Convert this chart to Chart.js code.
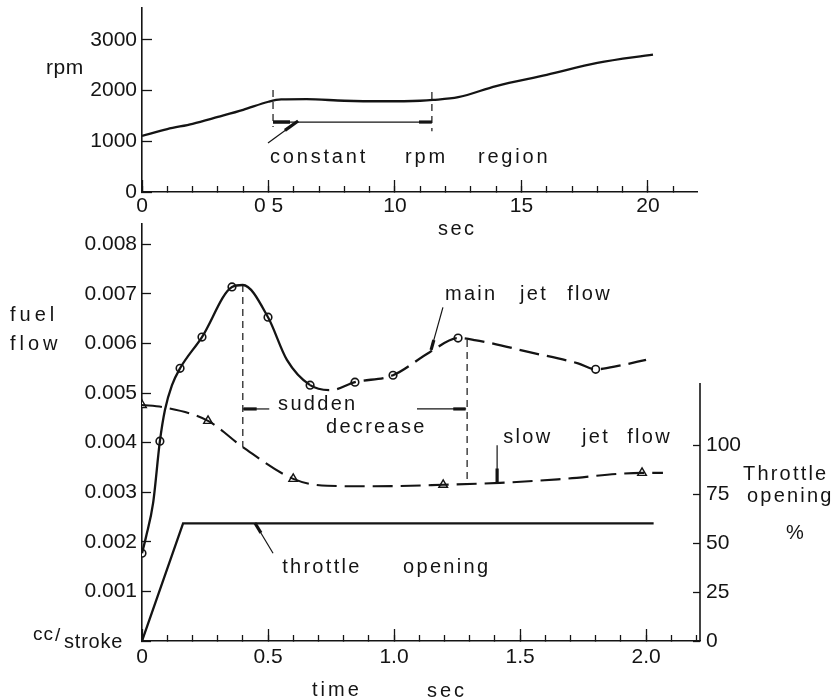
<!DOCTYPE html>
<html><head><meta charset="utf-8">
<script src="https://cdn.jsdelivr.net/npm/chart.js@4/dist/chart.umd.min.js"></script>
<style>
html,body{margin:0;padding:0;background:#fff;}
#wrap{position:relative;width:838px;height:700px;overflow:hidden;}
canvas{position:absolute;left:0;top:0;}
</style></head><body>
<div id="wrap"><canvas id="cTop" width="838" height="700"></canvas><canvas id="cBot" width="838" height="700"></canvas></div>
<script>
// ---------------- data ----------------
// upper panel: engine speed
const rpmTime   = [0, 1, 2, 3, 4, 5, 5.5, 6.5, 8, 9.5, 11, 11.5, 12.5, 14, 16, 18, 20.2];
const rpmValues = [1105, 1240, 1345, 1480, 1620, 1780, 1825, 1830, 1800, 1790, 1800, 1815, 1870, 2090, 2310, 2545, 2710];
const rpmTickValues  = [0, 1000, 2000, 3000];
const rpmTickLabels  = ['0', '1000', '2000', '3000'];
const topTimeLabels  = ['0', '0 5', '10', '15', '20'];

// lower panel: fuel flow (cc/stroke) vs time (sec)
const mainJetLineTime = [0, 0.016, 0.044, 0.071, 0.091, 0.119, 0.151, 0.238, 0.357, 0.40, 0.50, 0.575, 0.667, 0.75, 0.845, 0.996, 1.143, 1.254, 1.32, 1.55, 1.73, 1.80, 1.90, 2.0];
const mainJetLineFlow = [0.00177, 0.00210, 0.00278, 0.00403, 0.00466, 0.00516, 0.00550, 0.00613, 0.00714, 0.00718, 0.00653, 0.00567, 0.00516, 0.00506, 0.00522, 0.00536, 0.00583, 0.00611, 0.00607, 0.00581, 0.00560, 0.00548, 0.00556, 0.00567];
const mainJetPointTime = [0, 0.071, 0.151, 0.238, 0.357, 0.50, 0.667, 0.845, 0.996, 1.254, 1.80];
const mainJetPointFlow = [0.00177, 0.00403, 0.00550, 0.00613, 0.00714, 0.00653, 0.00516, 0.00522, 0.00536, 0.00611, 0.00548];

const slowJetLineTime = [0, 0.08, 0.262, 0.40, 0.60, 0.735, 0.92, 1.195, 1.42, 1.65, 1.984, 2.067];
const slowJetLineFlow = [0.00476, 0.00472, 0.00444, 0.00391, 0.00327, 0.00313, 0.00312, 0.00315, 0.00319, 0.00326, 0.00339, 0.00339];
const slowJetPointTime = [0, 0.262, 0.60, 1.195, 1.984];
const slowJetPointFlow = [0.00476, 0.00444, 0.00327, 0.00315, 0.00339];

const throttleTime    = [0, 0.163, 2.03];
const throttlePercent = [0, 60, 60];

const fuelTickLabels     = ['', '0.001', '0.002', '0.003', '0.004', '0.005', '0.006', '0.007', '0.008'];
const timeTickLabels     = ['0', '0.5', '1.0', '1.5', '2.0'];
const throttleTickLabels = ['0', '25', '50', '75', '100'];

// ---------------- helpers ----------------
const INK = '#141414';
const FONT = '"Liberation Sans", Arial, sans-serif';
Chart.defaults.font.family = FONT;
Chart.defaults.font.size = 21;
Chart.defaults.color = INK;

const xy = (xs, ys) => xs.map((x, i) => ({x: x, y: ys[i]}));
const seg = (x1, y1, x2, y2) => [{x: x1, y: y1}, {x: x2, y: y2}];
function lineDs(data, opt) {
  return Object.assign({data: data, borderColor: INK, borderWidth: 1.3, pointRadius: 0, fill: false, tension: 0}, opt || {});
}
function zeroPad(s) { s.paddingLeft = s.paddingRight = s.paddingTop = s.paddingBottom = 0; }

function drawText(ctx, txt, x, y, o) {
  o = o || {};
  ctx.save();
  ctx.font = (o.weight ? o.weight + ' ' : '') + (o.size || 20) + 'px ' + FONT;
  ctx.fillStyle = INK;
  try { ctx.letterSpacing = (o.ls === undefined ? 2.5 : o.ls) + 'px'; } catch (e) {}
  ctx.textAlign = o.align || 'left';
  ctx.textBaseline = o.base || 'middle';
  ctx.fillText(txt, x, y);
  ctx.restore();
}

// ---------------- upper chart ----------------
const TOP_XMAX = 21.94, TOP_YMAX = 3629;
const topNotes = [
  {text: 'constant', t: 5.06, v: 690},
  {text: 'rpm', t: 10.40, v: 690},
  {text: 'region', t: 13.28, v: 690}
];
const topTextPlugin = {
  id: 'topText',
  afterDraw(chart) {
    const ctx = chart.ctx, xs = chart.scales.x, ys = chart.scales.y;
    topNotes.forEach(n => drawText(ctx, n.text, xs.getPixelForValue(n.t), ys.getPixelForValue(n.v), {ls: 2.8}));
    drawText(ctx, 'rpm', 46, ys.getPixelForValue(2440), {size: 21, ls: 0.5});
    drawText(ctx, 'sec', 438, 229, {ls: 2.5});
  }
};

new Chart(document.getElementById('cTop'), {
  type: 'line',
  data: {datasets: [
    lineDs(xy(rpmTime, rpmValues), {borderWidth: 2.3, cubicInterpolationMode: 'monotone'}),
    lineDs(seg(5.18, 2010, 5.18, 1280), {borderDash: [7, 5], borderWidth: 1.2}),
    lineDs(seg(11.46, 1970, 11.46, 1200), {borderDash: [7, 5], borderWidth: 1.2}),
    lineDs(seg(5.18, 1380, 11.46, 1380), {borderWidth: 1.2}),
    lineDs(seg(5.18, 1380, 5.85, 1380), {borderWidth: 3.5}),
    lineDs(seg(10.95, 1380, 11.46, 1380), {borderWidth: 3.2}),
    lineDs(seg(4.98, 966, 6.17, 1400), {borderWidth: 1.2}),
    lineDs(seg(5.65, 1215, 6.17, 1400), {borderWidth: 3.2})
  ]},
  options: {
    responsive: false, animation: false, devicePixelRatio: 1,
    layout: {padding: {top: 8, left: 0, right: 141, bottom: 478}},
    plugins: {legend: {display: false}, tooltip: {enabled: false}},
    scales: {
      x: {type: 'linear', position: 'bottom', weight: 0, min: 0, max: TOP_XMAX, bounds: 'data',
          ticks: {display: false, stepSize: 1, includeBounds: false},
          grid: {drawOnChartArea: false, drawTicks: true, tickLength: -6, tickColor: INK, tickWidth: 1.3},
          border: {display: true, color: INK, width: 1.6},
          afterFit: s => { s.height = 0; zeroPad(s); }},
      xMajor: {type: 'linear', position: 'bottom', weight: 1, min: 0, max: TOP_XMAX, bounds: 'data',
          ticks: {stepSize: 5, includeBounds: false, padding: 14, maxRotation: 0, autoSkip: false,
                  callback: v => topTimeLabels[Math.round(v / 5)]},
          grid: {drawOnChartArea: false, drawTicks: true, tickLength: -12, tickColor: INK, tickWidth: 1.3},
          border: {display: false},
          afterBuildTicks: s => { s.ticks = s.ticks.filter(t => t.value <= 20.001); },
          afterFit: s => { s.height = 30; zeroPad(s); }},
      y: {type: 'linear', position: 'left', min: 0, max: TOP_YMAX, bounds: 'data',
          ticks: {includeBounds: false, padding: 15,
                  callback: v => rpmTickLabels[rpmTickValues.indexOf(v)]},
          grid: {drawOnChartArea: false, drawTicks: true, tickLength: -10, tickColor: INK, tickWidth: 1.3},
          border: {display: true, color: INK, width: 1.6},
          afterBuildTicks: s => { s.ticks = rpmTickValues.map(v => ({value: v})); },
          afterFit: s => { s.width = 142; zeroPad(s); }}
    }
  },
  plugins: [topTextPlugin]
});

// ---------------- lower chart ----------------
const BOT_XMAX = 2.214, BOT_YMAX = 0.00841, THR_MAX = 212.8, THR_AXIS_TOP = 131.6;
const botNotes = [
  {text: 'main', t: 1.202, v: 0.00698},
  {text: 'jet', t: 1.500, v: 0.00698},
  {text: 'flow', t: 1.687, v: 0.00698},
  {text: 'sudden', t: 0.540, v: 0.00476},
  {text: 'decrease', t: 0.730, v: 0.00431},
  {text: 'slow', t: 1.433, v: 0.00411},
  {text: 'jet', t: 1.746, v: 0.00411},
  {text: 'flow', t: 1.925, v: 0.00411},
  {text: 'throttle', t: 0.556, v: 0.00149},
  {text: 'opening', t: 1.036, v: 0.00149}
];
const botTextPlugin = {
  id: 'botText',
  afterDraw(chart) {
    const ctx = chart.ctx, xs = chart.scales.x, ys = chart.scales.y;
    botNotes.forEach(n => drawText(ctx, n.text, xs.getPixelForValue(n.t), ys.getPixelForValue(n.v), {ls: 2.3}));
    drawText(ctx, 'fuel', 10, 315, {ls: 4});
    drawText(ctx, 'flow', 10, 344, {ls: 4});
    drawText(ctx, 'cc', 33, 640, {size: 19, ls: 1, base: 'alphabetic'});
    drawText(ctx, '/', 55, 641, {size: 19, ls: 0, base: 'alphabetic'});
    drawText(ctx, 'stroke', 64, 648, {size: 20, ls: 0.8, base: 'alphabetic'});
    drawText(ctx, 'time', 312, 696, {ls: 3, base: 'alphabetic'});
    drawText(ctx, 'sec', 427, 697, {ls: 3, base: 'alphabetic'});
    drawText(ctx, 'Throttle', 743, 480, {ls: 2.2, base: 'alphabetic'});
    drawText(ctx, 'opening', 747, 502, {ls: 2.2, base: 'alphabetic'});
    drawText(ctx, '%', 795, 533, {ls: 0, align: 'center'});
  }
};

new Chart(document.getElementById('cBot'), {
  type: 'line',
  data: {datasets: [
    lineDs(xy(mainJetLineTime, mainJetLineFlow), {borderWidth: 2.3, cubicInterpolationMode: 'monotone',
      segment: {borderDash: c => (c.p0.parsed.x >= 0.66 ? [20, 8] : undefined)}}),
    lineDs(xy(slowJetLineTime, slowJetLineFlow), {borderWidth: 2.1, cubicInterpolationMode: 'monotone', borderDash: [20, 8]}),
    lineDs(xy(throttleTime, throttlePercent), {yAxisID: 'yR', borderWidth: 2.3}),
    lineDs(seg(BOT_XMAX, 0, BOT_XMAX, THR_AXIS_TOP), {yAxisID: 'yR', borderWidth: 1.6, clip: false}),
    lineDs(seg(0.40, 0.00718, 0.40, 0.00391), {borderDash: [7, 5], borderWidth: 1.2}),
    lineDs(seg(1.29, 0.00607, 1.29, 0.00316), {borderDash: [7, 5], borderWidth: 1.2}),
    lineDs(seg(0.505, 0.00468, 0.40, 0.00468), {borderWidth: 1.2}),
    lineDs(seg(0.455, 0.00468, 0.403, 0.00468), {borderWidth: 3.2}),
    lineDs(seg(1.091, 0.00468, 1.286, 0.00468), {borderWidth: 1.2}),
    lineDs(seg(1.235, 0.00468, 1.284, 0.00468), {borderWidth: 3.2}),
    lineDs(seg(1.409, 0.00395, 1.409, 0.00318), {borderWidth: 1.2}),
    lineDs(seg(1.409, 0.00348, 1.409, 0.00318), {borderWidth: 3.2}),
    lineDs(seg(1.194, 0.00673, 1.147, 0.00587), {borderWidth: 1.2}),
    lineDs(seg(1.158, 0.00607, 1.147, 0.00587), {borderWidth: 3.2}),
    lineDs(seg(0.52, 0.00177, 0.448, 0.00238), {borderWidth: 1.2}),
    lineDs(seg(0.472, 0.00218, 0.448, 0.00238), {borderWidth: 3.2}),
    {data: xy(mainJetPointTime, mainJetPointFlow), showLine: false, pointStyle: 'circle', pointRadius: 3.8,
     pointBorderWidth: 1.6, pointBorderColor: INK, pointBackgroundColor: '#fff'},
    {data: xy(slowJetPointTime, slowJetPointFlow), showLine: false, pointStyle: 'triangle', pointRadius: 5,
     pointBorderWidth: 1.4, pointBorderColor: INK, pointBackgroundColor: '#fff'}
  ]},
  options: {
    responsive: false, animation: false, devicePixelRatio: 1,
    layout: {padding: {top: 224, left: 0, right: 0, bottom: 29}},
    plugins: {legend: {display: false}, tooltip: {enabled: false}},
    scales: {
      x: {type: 'linear', position: 'bottom', weight: 0, min: 0, max: BOT_XMAX, bounds: 'data',
          ticks: {display: false, stepSize: 0.1, includeBounds: false},
          grid: {drawOnChartArea: false, drawTicks: true, tickLength: -6, tickColor: INK, tickWidth: 1.3},
          border: {display: true, color: INK, width: 1.6},
          afterFit: s => { s.height = 0; zeroPad(s); }},
      xMajor: {type: 'linear', position: 'bottom', weight: 1, min: 0, max: BOT_XMAX, bounds: 'data',
          ticks: {stepSize: 0.5, includeBounds: false, padding: 16, maxRotation: 0, autoSkip: false,
                  callback: v => timeTickLabels[Math.round(v / 0.5)]},
          grid: {drawOnChartArea: false, drawTicks: true, tickLength: -12, tickColor: INK, tickWidth: 1.3},
          border: {display: false},
          afterBuildTicks: s => { s.ticks = s.ticks.filter(t => t.value <= 2.0001); },
          afterFit: s => { s.height = 30; zeroPad(s); }},
      y: {type: 'linear', position: 'left', min: 0, max: BOT_YMAX, bounds: 'data',
          ticks: {stepSize: 0.001, includeBounds: false, padding: 14,
                  callback: v => fuelTickLabels[Math.round(v / 0.001)]},
          grid: {drawOnChartArea: false, drawTicks: true, tickLength: -9, tickColor: INK, tickWidth: 1.3},
          border: {display: true, color: INK, width: 1.6},
          afterBuildTicks: s => { s.ticks = s.ticks.filter(t => t.value <= 0.00801); },
          afterFit: s => { s.width = 142; zeroPad(s); }},
      yR: {type: 'linear', position: 'right', min: 0, max: THR_MAX, bounds: 'data',
          ticks: {stepSize: 25, includeBounds: false, padding: 13,
                  callback: v => throttleTickLabels[Math.round(v / 25)]},
          grid: {drawOnChartArea: false, drawTicks: true, tickLength: -7, tickColor: INK, tickWidth: 1.3},
          border: {display: false},
          afterBuildTicks: s => { s.ticks = s.ticks.filter(t => t.value <= 100.5); },
          afterFit: s => { s.width = 138; zeroPad(s); }}
    }
  },
  plugins: [botTextPlugin]
});
</script>
</body></html>
